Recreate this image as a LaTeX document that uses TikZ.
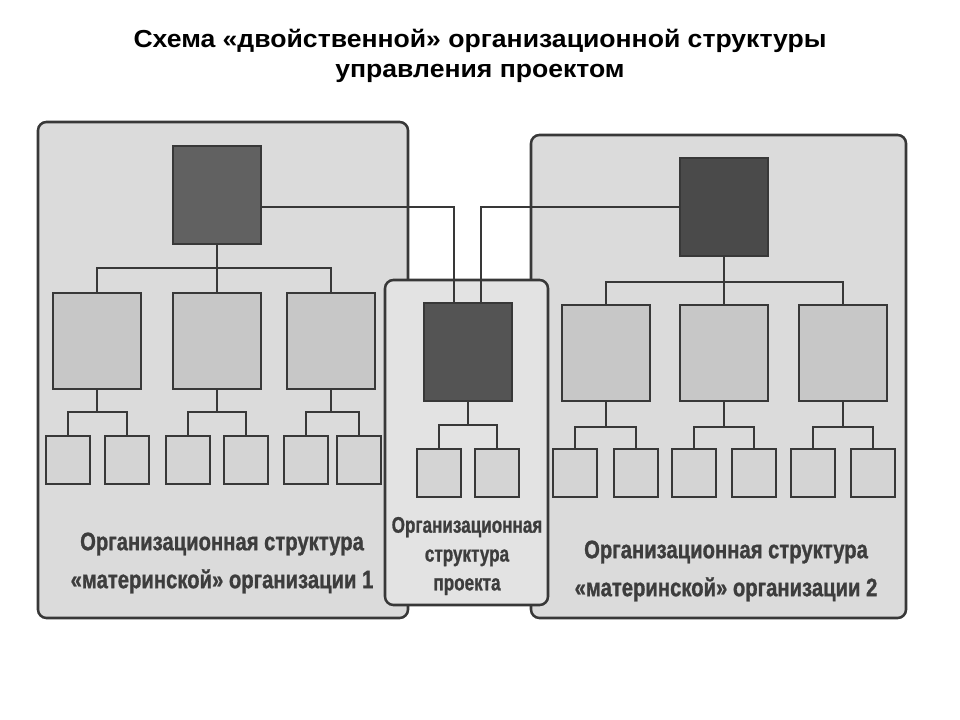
\documentclass[tikz,border=0pt]{standalone}
\usepackage{fontspec}
\setmainfont{Liberation Sans}
\newfontfamily\titlefont[FakeStretch=1.08]{Liberation Sans}
\newfontfamily\capfont[FakeStretch=0.8,BoldFeatures={FakeBold=1}]{Liberation Sans}
\newfontfamily\projfont[FakeStretch=0.76,BoldFeatures={FakeBold=1}]{Liberation Sans}
\usepackage{tikz}
\usetikzlibrary{calc}

\definecolor{linegray}{gray}{0.22}
\definecolor{panelgray}{gray}{0.86}
\definecolor{middlegray}{gray}{0.89}
\definecolor{boxgray}{gray}{0.78}
\definecolor{subgray}{gray}{0.83}
\definecolor{headone}{gray}{0.38}
\definecolor{headtwo}{gray}{0.29}
\definecolor{headproj}{gray}{0.33}
\definecolor{captiongray}{gray}{0.24}

\begin{document}
\begin{tikzpicture}[x=0.025cm,y=-0.025cm,
    panel/.style={draw=linegray,line width=1.8pt,rounded corners=6pt},
    headbox/.style={draw=linegray,line width=1.4pt,inner sep=0pt,
        minimum width=2.2cm,minimum height=2.45cm},
    unitbox/.style={draw=linegray,line width=1.4pt,fill=boxgray,inner sep=0pt,
        minimum width=2.2cm,minimum height=2.4cm},
    subbox/.style={draw=linegray,line width=1.4pt,fill=subgray,inner sep=0pt,
        minimum width=1.1cm,minimum height=1.2cm},
    link/.style={draw=linegray,line width=1.4pt},
    caption/.style={text=captiongray,align=center,
        font=\capfont\bfseries\fontsize{18}{27}\selectfont},
    smallcaption/.style={text=captiongray,align=center,
        font=\projfont\bfseries\fontsize{16}{20.5}\selectfont}
]
\useasboundingbox (0,0) rectangle (960,720);

% Title
\node[align=center,font=\titlefont\bfseries\fontsize{17.5}{21.5}\selectfont] (title) at (480,56)
    {Схема «двойственной» организационной структуры\\управления проектом};

% Panels
\draw[panel,fill=panelgray] (38,122) rectangle (408,618);
\draw[panel,fill=panelgray] (531,135) rectangle (906,618);
\draw[panel,fill=middlegray] (385,280) rectangle (548,605);

% Parent organisation 1
\node[headbox,fill=headone] (L0) at (217,195) {};
\node[unitbox] (L1) at (97,341) {};
\node[unitbox] (L2) at (217,341) {};
\node[unitbox] (L3) at (331,341) {};
\node[subbox] (l11) at (68,460) {};
\node[subbox] (l12) at (127,460) {};
\node[subbox] (l21) at (188,460) {};
\node[subbox] (l22) at (246,460) {};
\node[subbox] (l31) at (306,460) {};
\node[subbox] (l32) at (359,460) {};

\draw[link] (L0.south) -- (L2.north);
\draw[link] (L1.north) |- ($(L0.south)+(0,23)$) -| (L3.north);
\draw[link] (L1.south) -- ++(0,22) coordinate (lb1);
\draw[link] (l11.north) |- (lb1) -| (l12.north);
\draw[link] (L2.south) -- ++(0,22) coordinate (lb2);
\draw[link] (l21.north) |- (lb2) -| (l22.north);
\draw[link] (L3.south) -- ++(0,22) coordinate (lb3);
\draw[link] (l31.north) |- (lb3) -| (l32.north);

% Project
\node[headbox,fill=headproj] (P0) at (468,352) {};
\node[subbox] (p1) at (439,473) {};
\node[subbox] (p2) at (497,473) {};

\draw[link] (P0.south) -- ++(0,23) coordinate (pb);
\draw[link] (p1.north) |- (pb) -| (p2.north);

% Parent organisation 2
\node[headbox,fill=headtwo] (R0) at (724,207) {};
\node[unitbox] (R1) at (606,353) {};
\node[unitbox] (R2) at (724,353) {};
\node[unitbox] (R3) at (843,353) {};
\node[subbox] (r11) at (575,473) {};
\node[subbox] (r12) at (636,473) {};
\node[subbox] (r21) at (694,473) {};
\node[subbox] (r22) at (754,473) {};
\node[subbox] (r31) at (813,473) {};
\node[subbox] (r32) at (873,473) {};

\draw[link] (R0.south) -- (R2.north);
\draw[link] (R1.north) |- ($(R0.south)+(0,25)$) -| (R3.north);
\draw[link] (R1.south) -- ++(0,25) coordinate (rb1);
\draw[link] (r11.north) |- (rb1) -| (r12.north);
\draw[link] (R2.south) -- ++(0,25) coordinate (rb2);
\draw[link] (r21.north) |- (rb2) -| (r22.north);
\draw[link] (R3.south) -- ++(0,25) coordinate (rb3);
\draw[link] (r31.north) |- (rb3) -| (r32.north);

% Both heads to the project
\draw[link] (L0.east |- R0.west) -| ($(P0.north)+(-14,0)$);
\draw[link] (R0.west) -| ($(P0.north)+(13,0)$);

% Labels
\node[caption] (cap1) at (222,563) {Организационная структура\\«материнской» организации 1};
\node[caption] (cap2) at (726,571) {Организационная структура\\«материнской» организации 2};
\node[smallcaption] (cap3) at (467,556) {Организационная\\структура\\проекта};

\end{tikzpicture}
\end{document}
